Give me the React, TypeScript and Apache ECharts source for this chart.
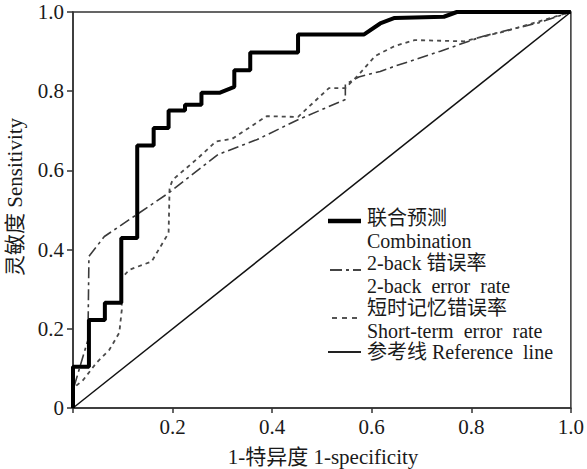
import React, { useEffect, useRef } from "react";
import * as echarts from "echarts";

// 1-specificity (x) and sensitivity (y) for each ROC curve
const combFpr = [0, 0, 0.032, 0.032, 0.064, 0.064, 0.097, 0.097, 0.129, 0.129, 0.162, 0.162, 0.192, 0.192, 0.225, 0.225, 0.258, 0.258, 0.294, 0.324, 0.324, 0.356, 0.356, 0.452, 0.452, 0.584, 0.617, 0.646, 0.745, 0.771, 1.0];
const combTpr = [0, 0.104, 0.104, 0.222, 0.222, 0.266, 0.266, 0.429, 0.429, 0.663, 0.663, 0.707, 0.707, 0.751, 0.751, 0.766, 0.766, 0.796, 0.796, 0.811, 0.853, 0.853, 0.898, 0.898, 0.943, 0.943, 0.971, 0.985, 0.988, 1.0, 1.0];

const backFpr = [0, 0, 0.03, 0.032, 0.063, 0.192, 0.291, 0.37, 0.452, 0.547, 0.547, 0.574, 0.617, 0.646, 0.738, 0.824, 0.936, 1.0];
const backTpr = [0, 0.045, 0.172, 0.383, 0.433, 0.543, 0.64, 0.678, 0.728, 0.779, 0.817, 0.836, 0.85, 0.863, 0.901, 0.939, 0.973, 1.0];

const shortFpr = [0, 0, 0.02, 0.047, 0.073, 0.093, 0.098, 0.098, 0.113, 0.158, 0.192, 0.194, 0.2, 0.251, 0.287, 0.32, 0.389, 0.452, 0.514, 0.547, 0.574, 0.607, 0.646, 0.686, 0.785, 0.87, 1.0];
const shortTpr = [0, 0.05, 0.07, 0.114, 0.147, 0.19, 0.248, 0.328, 0.349, 0.37, 0.442, 0.555, 0.576, 0.631, 0.673, 0.68, 0.737, 0.735, 0.808, 0.808, 0.842, 0.889, 0.914, 0.929, 0.926, 0.952, 1.0];

const refFpr = [0, 1];
const refTpr = [0, 1];

const legendLines = [
  "联合预测",
  "Combination",
  "2-back 错误率",
  "2-back  error  rate",
  "短时记忆错误率",
  "Short-term  error  rate",
  "参考线 Reference  line",
];

const xName = "1-特异度 1-specificity";
const yName = "灵敏度 Sensitivity";

const FONT = "'Liberation Serif', 'Noto Sans CJK SC', serif";

const zip = (a: number[], b: number[]) => a.map((v, i) => [v, b[i]]);

export default function App() {
  const ref = useRef<HTMLDivElement>(null);
  useEffect(() => {
    document.body.style.margin = "0";
    const chart = echarts.init(ref.current!, null, { renderer: "svg" });
    const lineTextY = [218, 241, 263, 286, 308, 331, 352];
    const legendX = 367;
    const texts = legendLines.map((t, i) => ({
      type: "text",
      x: legendX,
      y: lineTextY[i],
      style: {
        text: t,
        font: `20px ${FONT}`,
        fill: "#1a1a1a",
        verticalAlign: "middle",
      },
    }));
    const samples = [
      { y: 221, width: 4.5, dash: null as any, color: "#000", x1: 328, x2: 361 },
      { y: 270, width: 2, dash: [12, 4, 3, 4], color: "#444", x1: 330, x2: 361 },
      { y: 318, width: 2, dash: [5, 5], color: "#555", x1: 332, x2: 361 },
      { y: 352, width: 2.2, dash: null as any, color: "#222", x1: 328, x2: 361 },
    ].map((s) => ({
      type: "line",
      shape: { x1: s.x1, y1: s.y, x2: s.x2, y2: s.y },
      style: { stroke: s.color, lineWidth: s.width, lineDash: s.dash },
    }));

    chart.setOption({
      animation: false,
      backgroundColor: "#fff",
      grid: {
        left: 73,
        right: 8,
        top: 12,
        bottom: 61,
        show: true,
        borderColor: "#333",
        borderWidth: 1.5,
      },
      xAxis: {
        type: "value",
        min: 0,
        max: 1,
        interval: 0.2,
        splitLine: { show: false },
        axisLine: { show: true, onZero: false, lineStyle: { color: "#333", width: 1.5 } },
        axisTick: { show: true, length: 5, lineStyle: { color: "#333", width: 1.5 } },
        axisLabel: {
          margin: 8,
          color: "#1a1a1a",
          fontSize: 21,
          fontFamily: FONT,
          formatter: (v: number) => (v === 0 ? "" : v.toFixed(1)),
        },
      },
      yAxis: {
        type: "value",
        min: 0,
        max: 1,
        interval: 0.2,
        splitLine: { show: false },
        axisLine: { show: true, onZero: false, lineStyle: { color: "#333", width: 1.5 } },
        axisTick: { show: true, length: 6, lineStyle: { color: "#333", width: 1.5 } },
        axisLabel: {
          margin: 9,
          color: "#1a1a1a",
          fontSize: 21,
          fontFamily: FONT,
          formatter: (v: number) => (v === 0 ? "0" : v.toFixed(1)),
        },
      },
      series: [
        {
          name: "参考线",
          type: "line",
          data: zip(refFpr, refTpr),
          symbol: "none",
          lineStyle: { color: "#111", width: 1.5 },
          z: 2,
        },
        {
          name: "2-back 错误率",
          type: "line",
          data: zip(backFpr, backTpr),
          symbol: "none",
          lineStyle: { color: "#3a3a3a", width: 1.6, type: [11, 4, 3, 4] },
          z: 3,
        },
        {
          name: "短时记忆错误率",
          type: "line",
          data: zip(shortFpr, shortTpr),
          symbol: "none",
          lineStyle: { color: "#4a4a4a", width: 1.8, type: [4, 4] },
          z: 3,
        },
        {
          name: "联合预测",
          type: "line",
          data: zip(combFpr, combTpr),
          symbol: "none",
          lineStyle: { color: "#000", width: 4 },
          z: 4,
        },
      ],
      graphic: [
        ...samples,
        ...texts,
        {
          type: "text",
          x: 323,
          y: 457,
          style: {
            text: xName,
            font: `21px ${FONT}`,
            fill: "#1a1a1a",
            align: "center",
            verticalAlign: "middle",
          },
        },
        {
          type: "text",
          x: 15,
          y: 197,
          rotation: Math.PI / 2,
          style: {
            text: yName,
            font: `21px ${FONT}`,
            fill: "#1a1a1a",
            align: "center",
            verticalAlign: "middle",
          },
        },
      ],
    });
    return () => chart.dispose();
  }, []);
  return <div ref={ref} style={{ width: 587, height: 469 }} />;
}
